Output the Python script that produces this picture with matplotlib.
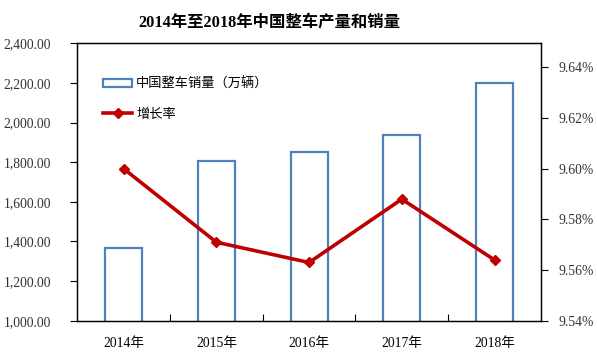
import matplotlib
matplotlib.use("Agg")
import matplotlib.pyplot as plt
from matplotlib.ticker import FuncFormatter, FixedLocator

# data
years = ['2014年', '2015年', '2016年', '2017年', '2018年']
sales = [1369, 1808, 1853, 1936, 2198]
growth = [9.600, 9.571, 9.563, 9.588, 9.564]

serif_cjk = ['Liberation Serif', 'Noto Sans CJK SC']
sans_cjk = ['Noto Sans CJK SC', 'DejaVu Sans']

fig = plt.figure(figsize=(5.97, 3.58), dpi=100)
ax = fig.add_axes([0.1295, 0.104, 0.7765, 0.775])

x = range(len(years))
ax.bar(x, sales, width=0.4, facecolor='white', edgecolor='#4F81BD',
       linewidth=1.6, label='中国整车销量（万辆）', zorder=2)
ax.set_ylim(1000, 2400)
ax.set_xlim(-0.5, len(years) - 0.5)
ax.set_yticks(range(1000, 2401, 200))
ax.yaxis.set_major_formatter(FuncFormatter(lambda v, p: f'{v:,.2f}'))

# category labels without ticks, ticks at category boundaries
ax.set_xticks(list(x))
ax.set_xticklabels(years, family=serif_cjk, fontsize=9.8)
ax.tick_params(axis='x', which='major', length=0, pad=12)
ax.xaxis.set_minor_locator(FixedLocator([0.5, 1.5, 2.5, 3.5]))
ax.tick_params(axis='x', which='minor', length=5, direction='in', width=0.8)
ax.tick_params(axis='y', length=5, width=0.8, pad=14)
for lab in ax.get_yticklabels():
    lab.set_family('Liberation Serif')
    lab.set_fontsize(9.8)
    lab.set_color('#333333')

ax2 = ax.twinx()
ax2.plot(x, growth, color='#C00000', linewidth=2.6, marker='D',
         markersize=5, label='增长率', zorder=3)
ax2.set_ylim(9.54, 9.6495)
ax2.set_yticks([9.54, 9.56, 9.58, 9.60, 9.62, 9.64])
ax2.yaxis.set_major_formatter(FuncFormatter(lambda v, p: f'{v:.2f}%'))
ax2.tick_params(axis='y', length=5, width=0.8, pad=8)
for lab in ax2.get_yticklabels():
    lab.set_family('Liberation Serif')
    lab.set_fontsize(9.8)
    lab.set_color('#333333')

for a in (ax, ax2):
    for s in a.spines.values():
        s.set_linewidth(0.9)
        s.set_color('black')

h1, l1 = ax.get_legend_handles_labels()
h2, l2 = ax2.get_legend_handles_labels()
ax2.legend(h1 + h2, l1 + l2, loc='upper left', bbox_to_anchor=(0.03, 0.92),
           frameon=False, prop={'family': sans_cjk, 'size': 9.5},
           handlelength=2.2, handleheight=0.5, handletextpad=0.3,
           labelspacing=1.3)

fig.suptitle('2014年至2018年中国整车产量和销量', family=serif_cjk,
             fontsize=11.8, fontweight='bold', x=0.451, y=0.96)

plt.savefig('out.png', dpi=100)
